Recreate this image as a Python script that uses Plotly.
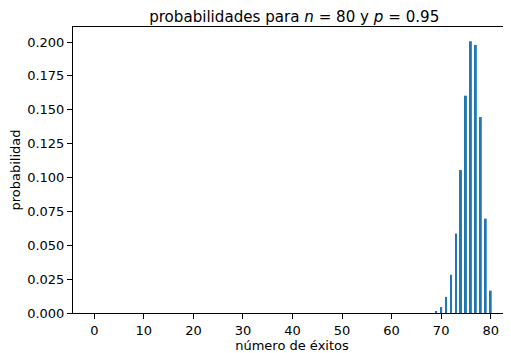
import plotly.graph_objects as go

exitos = [69, 70, 71, 72, 73, 74, 75, 76, 77, 78, 79, 80]
probabilidad = [0.00149, 0.0044, 0.0119, 0.0282, 0.0587,
                0.1055, 0.1604, 0.2005, 0.1979, 0.1446, 0.0696, 0.0165]
x_ticks = [0, 10, 20, 30, 40, 50, 60, 70, 80]
y_ticks = [0.0, 0.025, 0.05, 0.075, 0.1, 0.125, 0.15, 0.175, 0.2]

fig = go.Figure(go.Bar(x=exitos, y=probabilidad, width=0.4,
                       marker=dict(color="#1f77b4", line=dict(width=0))))

font = "DejaVu Sans, sans-serif"
fig.update_layout(
    width=503, height=345,
    margin=dict(l=65, r=0, t=19, b=40, autoexpand=False),
    plot_bgcolor="white", paper_bgcolor="white",
    font=dict(family=font, size=13, color="black"),
    showlegend=False,
    title=dict(text="probabilidades para <i>n</i> = 80 y <i>p</i> = 0.95",
               x=0.569, xanchor="center", y=0.976, yanchor="middle",
               font=dict(size=15.1, family=font, color="black")),
)
fig.update_xaxes(range=[-4.3, 84.1], tickvals=x_ticks, ticks="outside", ticklen=5,
                 tickwidth=1, tickcolor="black", showline=True, linecolor="black",
                 linewidth=1, mirror=True, showgrid=False, zeroline=False,
                 automargin=False,
                 title=dict(text="número de éxitos", standoff=2, font=dict(size=13)),
                 tickfont=dict(size=13))
fig.update_yaxes(range=[0, 0.2111], tickvals=y_ticks, tickformat=".3f", ticks="outside",
                 ticklen=5, tickwidth=1, tickcolor="black", showline=True,
                 linecolor="black", linewidth=1, showgrid=False, zeroline=False,
                 automargin=False,
                 title=dict(text="probabilidad", standoff=8, font=dict(size=13)),
                 tickfont=dict(size=13))

fig.write_html("out.html")
